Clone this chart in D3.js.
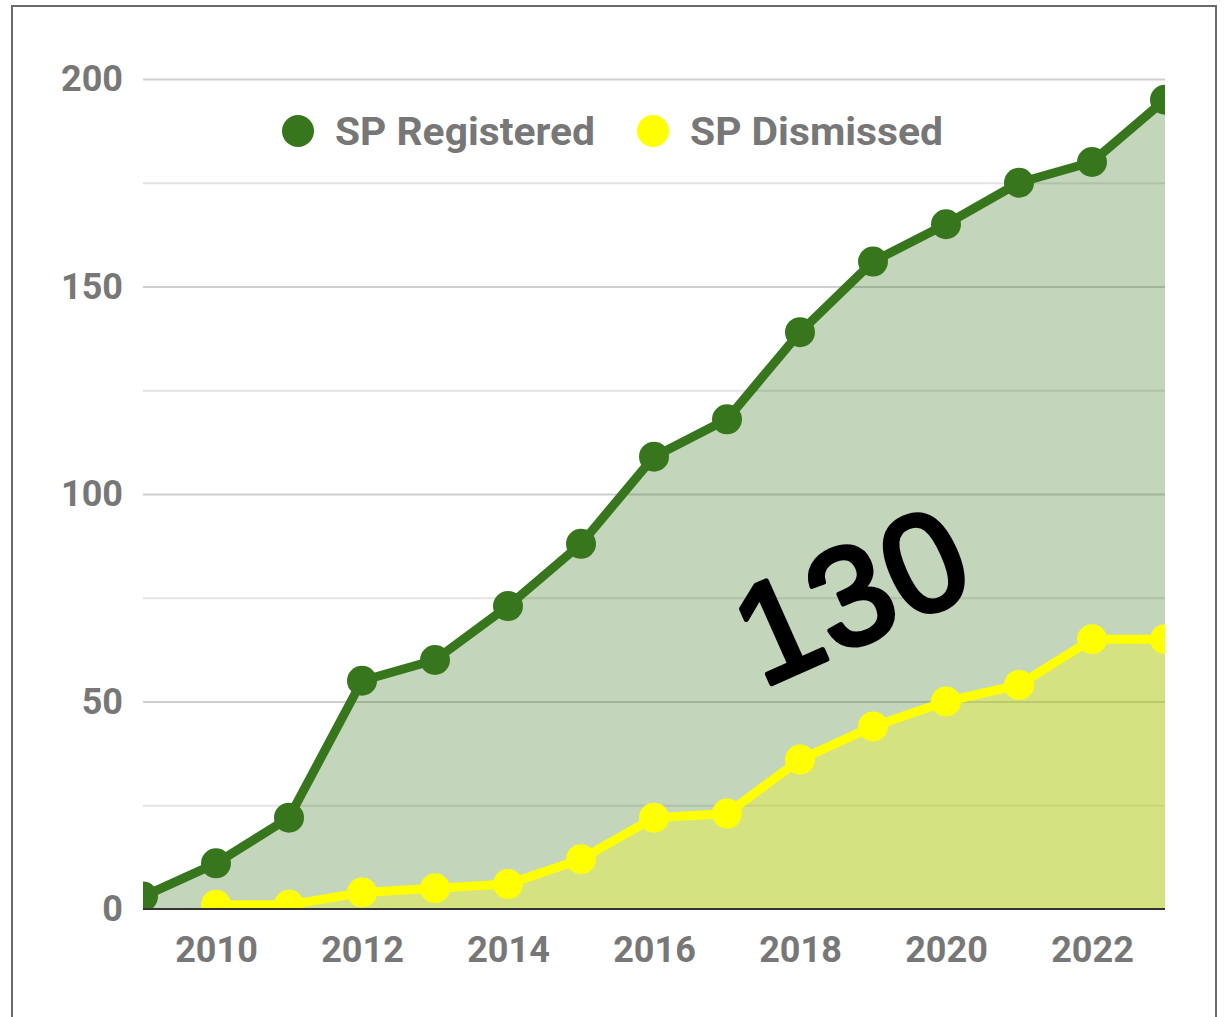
<!DOCTYPE html>
<html>
<head>
<meta charset="utf-8">
<script src="https://cdn.jsdelivr.net/npm/d3@7"></script>
<style>
  body { margin: 0; background: #fff; }
  svg { display: block; }
</style>
</head>
<body>
<div id="chart"></div>
<script>
const years = [2009, 2010, 2011, 2012, 2013, 2014, 2015, 2016, 2017, 2018, 2019, 2020, 2021, 2022, 2023]
const registered = [3, 11, 22, 55, 60, 73, 88, 109, 118, 139, 156, 165, 175, 180, 195]
const dismissed = [null, 1, 1, 4, 5, 6, 12, 22, 23, 36, 44, 50, 54, 65, 65]
const yTicks = [0, 50, 100, 150, 200]
const xTicks = [2010, 2012, 2014, 2016, 2018, 2020, 2022]
const seriesNames = ['SP Registered', 'SP Dismissed']
const seriesColors = ['#38761d', '#ffff00']
const note = '130'

const W = 1228, H = 1017
const plot = { left: 143, right: 1165, top: 79, bottom: 909 }

const svg = d3.select('#chart').append('svg')
  .attr('width', W)
  .attr('height', H)

// photo frame
svg.append('rect')
  .attr('x', 12).attr('y', 6)
  .attr('width', 1204).attr('height', 1030)
  .attr('fill', '#fff')
  .attr('stroke', '#6a6a6a')
  .attr('stroke-width', 2)

const x = d3.scaleLinear().domain([years[0], years[years.length - 1]]).range([plot.left, plot.right])
const y = d3.scaleLinear().domain([0, 200]).range([plot.bottom, plot.top])

svg.append('defs').append('clipPath')
  .attr('id', 'plot-clip')
  .append('rect')
  .attr('x', plot.left).attr('y', plot.top - 20)
  .attr('width', plot.right - plot.left)
  .attr('height', plot.bottom - plot.top + 20)

// grid lines
const grid = svg.append('g')
  .attr('transform', `translate(${plot.left},0)`)
  .call(d3.axisLeft(y).tickValues(d3.range(25, 201, 25)).tickSize(-(plot.right - plot.left)).tickFormat(''))
grid.select('.domain').remove()
grid.selectAll('.tick line')
  .attr('stroke', d => d % 50 === 0 ? '#cfcfcf' : '#e3e3e3')
  .attr('stroke-width', 2)

const rows = years.map((yr, i) => ({ year: yr, reg: registered[i], dis: dismissed[i] }))
const series = [
  { name: seriesNames[0], color: seriesColors[0], data: rows.filter(d => d.reg !== null).map(d => [d.year, d.reg]) },
  { name: seriesNames[1], color: seriesColors[1], data: rows.filter(d => d.dis !== null).map(d => [d.year, d.dis]) }
]

const area = d3.area().x(d => x(d[0])).y0(y(0)).y1(d => y(d[1]))
const line = d3.line().x(d => x(d[0])).y(d => y(d[1]))

const marks = svg.append('g').attr('clip-path', 'url(#plot-clip)')

series.forEach(s => {
  marks.append('path')
    .datum(s.data)
    .attr('d', area)
    .attr('fill', s.color)
    .attr('fill-opacity', 0.3)
})

// baseline
svg.append('line')
  .attr('x1', plot.left).attr('x2', plot.right)
  .attr('y1', y(0)).attr('y2', y(0))
  .attr('stroke', '#333')
  .attr('stroke-width', 2)

series.forEach(s => {
  const g = marks.append('g')
  g.append('path')
    .datum(s.data)
    .attr('d', line)
    .attr('fill', 'none')
    .attr('stroke', s.color)
    .attr('stroke-width', 9)
    .attr('stroke-linejoin', 'round')
  g.selectAll('circle')
    .data(s.data)
    .enter()
    .append('circle')
    .attr('cx', d => x(d[0]))
    .attr('cy', d => y(d[1]))
    .attr('r', 15)
    .attr('fill', s.color)
})

// axes
const yAxis = svg.append('g')
  .attr('transform', `translate(${plot.left},0)`)
  .call(d3.axisLeft(y).tickValues(yTicks).tickSize(0).tickPadding(20))
yAxis.select('.domain').remove()
yAxis.selectAll('text')
  .attr('font-family', 'Roboto')
  .attr('font-weight', 700)
  .attr('font-size', 36)
  .attr('fill', '#777')

const xAxis = svg.append('g')
  .attr('transform', `translate(0,${plot.bottom})`)
  .call(d3.axisBottom(x).tickValues(xTicks).tickSize(0).tickPadding(27).tickFormat(d3.format('d')))
xAxis.select('.domain').remove()
xAxis.selectAll('text')
  .attr('font-family', 'Roboto')
  .attr('font-weight', 700)
  .attr('font-size', 36)
  .attr('fill', '#777')

// legend
const legendX = [298, 653]
const legendW = [260, 253]
const legend = svg.append('g')
series.forEach((s, i) => {
  legend.append('circle')
    .attr('cx', legendX[i]).attr('cy', 131)
    .attr('r', 16)
    .attr('fill', s.color)
  legend.append('text')
    .attr('x', legendX[i] + 37).attr('y', 131)
    .attr('dy', '0.36em')
    .attr('font-family', 'Roboto')
    .attr('font-weight', 700)
    .attr('font-size', 39)
    .attr('textLength', legendW[i])
    .attr('lengthAdjust', 'spacingAndGlyphs')
    .attr('fill', '#777')
    .text(s.name)
})

// handwritten note
svg.append('text')
  .attr('transform', 'translate(762,688) rotate(-24)')
  .attr('font-family', 'Liberation Sans')
  .attr('font-size', 140)
  .attr('letter-spacing', 2)
  .attr('fill', '#000')
  .attr('stroke', '#000')
  .attr('stroke-width', 5)
  .attr('stroke-linejoin', 'round')
  .text(note)
</script>
</body>
</html>
